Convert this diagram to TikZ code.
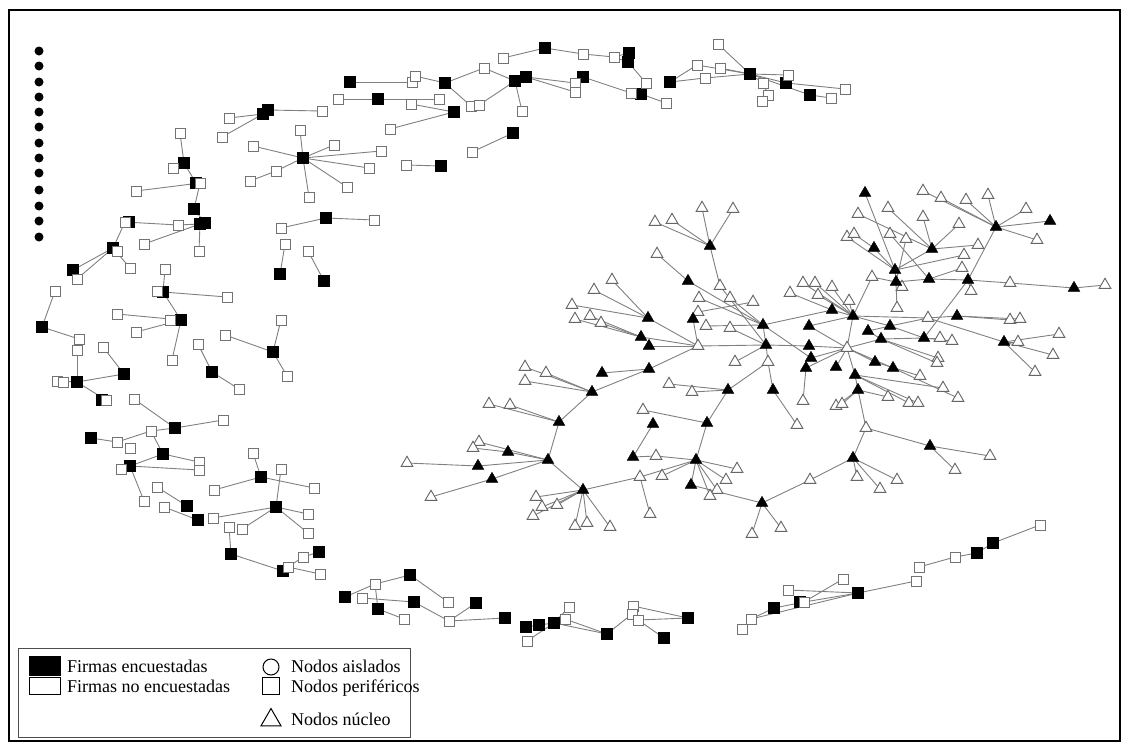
\documentclass[tikz,border=0pt]{standalone}
\usepackage{fontspec}
\setmainfont{Liberation Serif}
\usetikzlibrary{shapes.geometric,backgrounds}
\begin{document}
\begin{tikzpicture}[x=1pt,y=-1pt,
 wsq/.style={rectangle,draw=black!55,fill=white,line width=0.9pt,minimum size=10pt,inner sep=0pt},
 bsq/.style={rectangle,draw=black,fill=black,minimum size=11pt,inner sep=0pt},
 wtr/.style={regular polygon,regular polygon sides=3,draw=black!60,fill=white,line width=0.9pt,minimum size=13.5pt,inner sep=0pt},
 btr/.style={regular polygon,regular polygon sides=3,draw=black,fill=black,minimum size=13.5pt,inner sep=0pt},
 iso/.style={circle,fill=black,minimum size=9pt,inner sep=0pt},
 edge/.style={draw=black!50,line width=0.9pt},
 lgtext/.style={anchor=base west,inner sep=0pt,font=\fontsize{18}{20}\selectfont}]
\useasboundingbox (0,0) rectangle (1128,745);
\draw[line width=2.5pt] (9,10) rectangle (1120,741);

% isolated nodes
\foreach \n/\y in {i1/51,i2/66,i3/82,i4/97,i5/112,i6/127,i7/143,i8/158,i9/173,i10/190,i11/206,i12/221,i13/237}
  \node[iso] (\n) at (39,\y) {};

% black squares
\foreach \n/\x/\y in {p3/263/114,p4/268/110,p7/350/82,p8/378/99,p12/445/83,p15/545/48,p18/629/53,p19/628/62,p22/641/94,p24/515/81,p25/526/77,p29/583/77,p31/454/112,p35/513/133,p38/441/166,
 q2/750/74,q6/670/82,q8/786/83,q12/810/95,
 r0/303/158,
 s2/184/163,s4/196/183,s7/194/209,s8/200/224,s9/205/223,s13/129/222,s15/113/248,s18/73/270,
 t2/326/218,t5/280/274,t7/324/281,t9/273/352,t13/212/372,
 u3/163/292,u7/181/320,u11/42/327,u14/77/382,u17/124/374,u19/102/400,
 v2/175/428,v5/91/438,v8/163/454,v9/130/466,v15/187/506,v17/198/520,v19/261/477,v23/276/507,v29/231/554,v30/283/571,v33/319/552,
 w1/345/597,w4/410/575,w6/378/609,w8/414/602,w10/476/603,w11/505/618,
 x1/526/627,x3/539/625,x4/554/623,x7/607/634,x11/688/618,x12/664/638,
 y2/993/543,y3/977/553,y7/858/593,y11/800/602,y12/774/608}
  \node[bsq] (\n) at (\x,\y) {};

% white squares
\foreach \n/\x/\y in {p1/229/118,p2/222/137,p5/322/111,p6/338/99,p9/439/99,p10/412/82,p11/415/76,p13/484/68,p14/503/58,p16/583/54,p17/614/57,p20/646/83,p21/631/93,p23/666/103,p26/522/111,p27/575/83,p28/575/92,p30/411/104,p32/471/106,p33/479/105,p34/390/129,p36/472/152,p37/406/165,
 q1/718/44,q3/697/65,q4/720/68,q5/705/78,q7/788/75,q9/763/83,q10/768/95,q11/762/101,q13/831/98,q14/845/89,
 r1/300/130,r2/334/145,r3/253/146,r4/381/151,r5/369/168,r6/347/187,r7/309/197,r8/276/171,r9/250/181,
 s1/180/133,s3/173/168,s5/200/183,s6/136/191,s10/178/225,s11/199/251,s12/144/244,s14/125/222,s16/117/251,s17/130/268,s19/77/279,
 t1/281/228,t3/374/220,t4/285/244,t6/308/251,t8/281/320,t10/225/335,t11/287/376,t12/198/344,t14/239/389,
 u1/165/269,u2/157/291,u4/227/297,u5/117/314,u6/170/320,u8/136/332,u9/172/360,u10/55/291,u12/79/339,u13/77/350,u15/57/381,u16/63/382,u18/103/347,u20/106/400,
 v1/134/399,v3/223/420,v4/151/431,v6/117/442,v7/130/448,v10/121/469,v11/199/462,v12/199/470,v13/144/501,v14/157/487,v16/164/507,v18/253/453,v20/281/469,v21/314/488,v22/214/490,v24/213/518,v25/308/514,v26/308/533,v27/229/527,v28/242/529,v31/288/567,v32/303/557,v34/320/574,
 w2/362/598,w3/375/584,w5/448/602,w7/404/619,w9/449/621,
 x2/527/641,x5/569/607,x6/565/619,x8/633/606,x9/632/614,x10/638/620,
 y1/1040/525,y4/955/557,y5/919/567,y6/916/581,y8/843/579,y9/788/590,y10/804/602,y13/751/619,y14/742/629}
  \node[wsq] (\n) at (\x,\y) {};

% white triangles
\foreach \n/\x/\y in {c1/702/208,c2/733/209,c3/655/222,c4/672/220,c6/657/254,c8/720/286,c9/612/280,c10/594/290,c11/572/305,c12/575/319,c13/590/316,c14/601/323,c18/698/346,c20/698/312,c21/699/298,c22/730/298,c23/753/302,c24/706/326,c25/730/328,c28/735/362,c29/768/362,c33/525/367,c34/546/373,c35/525/381,c36/669/384,c37/692/392,c40/489/404,c41/510/405,c42/643/410,c45/479/442,c46/473/448,c48/407/463,c51/431/497,c53/536/497,c54/542/507,c55/557/505,c56/533/516,c57/575/526,c58/587/523,c59/610/527,c60/640/477,c61/662/476,c64/656/456,c68/650/514,c69/737/469,c70/726/480,c71/717/490,c72/710/496,c74/752/534,c75/781/528,
 d2/923/191,d3/941/198,d4/966/200,d5/988/195,d7/1026/209,d9/1037/240,d10/858/214,d11/888/208,d12/923/217,d13/959/224,d15/978/245,d16/847/237,d17/854/234,d19/890/234,d20/906/239,d23/964/255,d24/962/268,d27/971/291,d28/1010/283,d30/1105/285,d31/872/277,d32/902/287,d33/790/293,d34/803/283,d35/815/283,d36/832/287,d37/818/295,d38/849/301,d41/897/308,d45/928/318,d47/1010/320,d48/1020/319,d50/847/348,d53/940/338,d54/952/341,d56/1018/342,d57/1059/334,d58/1053/355,d59/1035/372,d65/938/358,d66/937/363,d68/920/376,d70/803/401,d71/943/388,d72/958/398,d73/888/397,d74/909/403,d75/918/403,d76/836/406,d77/842/404,d78/797/425,d79/866/428,d81/990/456,d82/955/470,d84/810/480,d85/857/477,d86/880/489,d87/897/480}
  \node[wtr] (\n) at (\x,\y) {};

% black triangles
\foreach \n/\x/\y in {c5/710/246,c7/688/281,c15/648/318,c16/641/337,c17/649/346,c19/693/319,c26/763/325,c27/766/345,c30/649/369,c31/602/373,c32/592/392,c38/728/390,c39/773/390,c43/559/422,c44/548/460,c47/508/452,c49/478/466,c50/492/479,c52/583/490,c62/696/460,c63/633/457,c65/653/424,c66/707/423,c67/691/485,c73/762/503,
 d1/865/193,d6/996/227,d8/1050/221,d14/932/249,d18/874/248,d21/895/270,d22/896/282,d25/929/279,d26/968/280,d29/1074/288,d39/832/310,d40/853/316,d42/809/326,d43/890/326,d44/868/331,d46/957/316,d49/809/346,d51/881/339,d52/924/338,d55/1004/342,d60/811/358,d61/806/368,d62/836/367,d63/875/362,d64/893/368,d67/855/375,d69/858/390,d80/930/446,d83/853/458}
  \node[btr] (\n) at (\x,\y) {};

% connectors
\begin{pgfonlayer}{background}
\foreach \a/\b in {p1/p3,p2/p3,p3/p4,p4/p5,p6/p8,p8/p9,p7/p10,p11/p12,p12/p13,p12/p32,p33/p24,p13/p24,p24/p25,p14/p15,p15/p16,p16/p17,p17/p18,p17/p19,p19/p20,p24/p26,p25/p27,p25/p28,p29/p21,p21/p22,p22/p23,p30/p31,p34/p31,p36/p35,p37/p38,
 q1/q2,q6/q3,q3/q2,q4/q2,q5/q2,q6/q5,q2/q7,q2/q8,q8/q14,q2/q12,q12/q13,q2/q9,q9/q10,q10/q11,
 r0/r1,r0/r2,r0/r3,r0/r4,r0/r5,r0/r6,r0/r7,r0/r8,r8/r9,
 s1/s2,s2/s3,s2/s4,s6/s5,s5/s7,s7/s9,s14/s10,s10/s8,s12/s8,s8/s11,s14/s15,s15/s18,s15/s19,s15/s17,
 t1/t2,t2/t3,t4/t5,t6/t7,t8/t9,t10/t9,t9/t11,t12/t13,t13/t14,
 u1/u3,u3/u4,u3/u7,u5/u7,u8/u7,u7/u9,u10/u11,u11/u12,u13/u14,u14/u17,u18/u17,u14/u20,u15/u14,
 v1/v2,v2/v3,v4/v2,v6/v4,v5/v6,v4/v8,v8/v9,v8/v11,v9/v12,v9/v13,v14/v15,v16/v17,v18/v19,v22/v19,v19/v21,v20/v23,v24/v23,v23/v25,v23/v26,v23/v28,v27/v29,v29/v30,v31/v32,v32/v33,v31/v34,
 w1/w3,w3/w4,w4/w5,w2/w8,w3/w6,w6/w7,w8/w9,w9/w10,w9/w11,
 x2/x4,x1/x3,x3/x4,x4/x5,x4/x6,x6/x7,x4/x7,x7/x9,x9/x8,x8/x11,x10/x11,x10/x12,
 y1/y2,y2/y3,y3/y4,y4/y5,y6/y7,y9/y7,y7/y10,y8/y10,y10/y12,y12/y13,y13/y14,y7/y13,
 c1/c5,c2/c5,c3/c5,c4/c5,c6/c7,c5/c8,c8/c27,c7/c26,c21/c26,c22/c26,c20/c23,c24/c26,c25/c27,c9/c15,c10/c15,c11/c15,c12/c16,c13/c16,c14/c16,c15/c18,c16/c18,c17/c18,c19/c18,c20/c19,c18/c27,c27/c26,c27/c28,c18/c30,c30/c31,c30/c32,c33/c32,c34/c32,c35/c32,c36/c38,c37/c38,c29/c38,c27/c29,c29/c39,
 c32/c43,c40/c43,c41/c43,c43/c44,c45/c44,c46/c47,c47/c44,c48/c49,c49/c44,c50/c44,c51/c50,c44/c52,c52/c53,c52/c54,c52/c55,c52/c56,c52/c57,c52/c58,c52/c59,c52/c60,c60/c62,c60/c68,c61/c62,c62/c66,c42/c66,c66/c38,c65/c63,c63/c64,c64/c62,c62/c69,c62/c70,c62/c71,c62/c72,c62/c67,c67/c73,c73/c74,c73/c75,c73/d84,
 d2/d6,d3/d6,d4/d6,d5/d6,d6/d7,d6/d8,d6/d9,d6/d26,d10/d14,d11/d14,d12/d14,d13/d14,d14/d15,d14/d21,d1/d21,d16/d21,d17/d18,d18/d21,d19/d25,d20/d22,d21/d22,d22/d25,d25/d24,d25/d26,d21/d23,d26/d28,d28/d29,d29/d30,d26/d27,d26/d52,d31/d22,d22/d32,d22/d41,
 d33/d39,d34/d40,d35/d40,d36/d40,d37/d40,d38/d40,c26/d39,d39/d40,d40/d43,d40/d31,d40/d50,d40/d45,d43/d45,d45/d46,d46/d47,d46/d48,d44/d43,d43/d52,d51/d52,d52/d53,d52/d54,d45/d55,d55/d56,d55/d57,d55/d58,d55/d59,d42/d40,c27/d49,d49/d50,d42/d50,d50/d60,d50/d61,d50/d62,d50/d63,d50/d64,d50/d67,d50/d51,d61/d70,d60/c26,d63/d68,d64/d72,d67/d71,d67/d69,d69/d76,d69/d77,d69/d73,d67/d74,d67/d75,d69/d79,d79/d80,d80/d81,d80/d82,d79/d83,d83/d84,d83/d85,d83/d86,d83/d87,c39/d78,d51/d65,d51/d66,d44/d51}
  \draw[edge] (\a.center) -- (\b.center);
\end{pgfonlayer}

% legend
\draw[draw=black!70,line width=1pt] (18,648) rectangle (410,737);
\node[fill=black,minimum width=32pt,minimum height=20pt,inner sep=0pt] (lk1) at (45,666) {};
\node[draw=black,fill=white,line width=1pt,minimum width=31pt,minimum height=17pt,inner sep=0pt] (lk2) at (45,686) {};
\node[lgtext] (lt1) at (67,672) {Firmas encuestadas};
\node[lgtext] (lt2) at (67,692) {Firmas no encuestadas};
\node[circle,draw=black,line width=1pt,minimum size=16pt,inner sep=0pt] (lk3) at (271,667) {};
\node[rectangle,draw=black,line width=1pt,minimum size=17pt,inner sep=0pt] (lk4) at (271,686) {};
\node[regular polygon,regular polygon sides=3,draw=black,line width=1pt,minimum size=23pt,inner sep=0pt] (lk5) at (271,720) {};
\node[lgtext] (lt3) at (291,672) {Nodos aislados};
\node[lgtext] (lt4) at (291,692) {Nodos periféricos};
\node[lgtext] (lt5) at (291,725) {Nodos núcleo};
\end{tikzpicture}
\end{document}
